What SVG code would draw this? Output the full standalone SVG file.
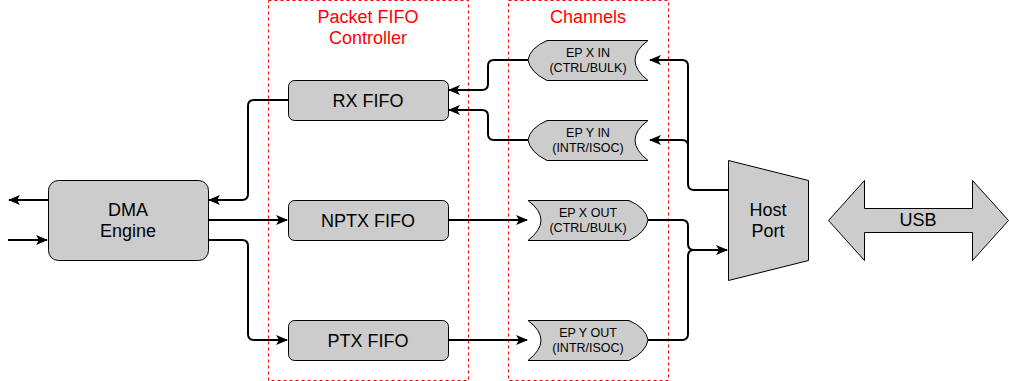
<svg xmlns="http://www.w3.org/2000/svg" width="1009" height="381" viewBox="0 0 1009 381">
<style>
.n{fill:#cccccc;stroke:#000;stroke-width:1}
.g{fill:none;stroke:#ff0000;stroke-width:1;stroke-dasharray:3 3}
.c{fill:none;stroke:#000;stroke-width:2;stroke-linejoin:round}
.t{font-family:"Liberation Sans",Arial,sans-serif;font-size:18px;fill:#000;text-anchor:middle}
.s{font-family:"Liberation Sans",Arial,sans-serif;font-size:12.5px;fill:#000;text-anchor:middle}
.r{font-family:"Liberation Sans",Arial,sans-serif;font-size:18px;fill:#ff0000;text-anchor:middle}
</style>
<defs>
<marker id="a" markerUnits="userSpaceOnUse" markerWidth="12" markerHeight="10" viewBox="0 0 12 10" refX="11" refY="5" orient="auto">
<path d="M0,0 L12,5 L0,10 L3,5 Z" fill="#000"/>
</marker>
</defs>
<rect width="1009" height="381" fill="#fff"/>
<g id="groups">
<rect class="g" x="268.5" y="0.5" width="200" height="380"/>
<text class="r" x="368" y="23">Packet FIFO</text>
<text class="r" x="368" y="44">Controller</text>
<rect class="g" x="508.5" y="0.5" width="160" height="380"/>
<text class="r" x="588" y="23">Channels</text>
</g>
<g id="connectors">
<path class="c" d="M528,60 H494 Q488,60 488,66 V84 Q488,90 482,90 H449" marker-end="url(#a)"/>
<path class="c" d="M528,140 H494 Q488,140 488,134 V116 Q488,110 482,110 H449" marker-end="url(#a)"/>
<path class="c" d="M728,190 H694 Q688,190 688,184 V66 Q688,60 682,60 H650" marker-end="url(#a)"/>
<path class="c" d="M688,146 Q688,140 682,140 H650" marker-end="url(#a)"/>
<path class="c" d="M288,100 H254 Q248,100 248,106 V194 Q248,200 242,200 H209" marker-end="url(#a)"/>
<path class="c" d="M208,220 H287" marker-end="url(#a)"/>
<path class="c" d="M208,240 H242 Q248,240 248,246 V334 Q248,340 254,340 H287" marker-end="url(#a)"/>
<path class="c" d="M448,220 H527" marker-end="url(#a)"/>
<path class="c" d="M448,340 H527" marker-end="url(#a)"/>
<path class="c" d="M648,220 H682 Q688,220 688,226 V244 Q688,250 694,250 H727" marker-end="url(#a)"/>
<path class="c" d="M648,340 H682 Q688,340 688,334 V256 Q688,250 694,250"/>
<path class="c" d="M48,200 H9" marker-end="url(#a)"/>
<path class="c" d="M8,240 H47" marker-end="url(#a)"/>
</g>
<g id="dma">
<rect class="n" x="48.5" y="180.5" width="160" height="80" rx="10"/>
<text class="t" x="128" y="216">DMA</text>
<text class="t" x="128" y="237">Engine</text>
</g>
<g id="rxfifo">
<rect class="n" x="288.5" y="80.5" width="160" height="40" rx="6"/>
<text class="t" x="368" y="106.5">RX FIFO</text>
</g>
<g id="nptxfifo">
<rect class="n" x="288.5" y="200.5" width="160" height="40" rx="6"/>
<text class="t" x="368" y="226.5">NPTX FIFO</text>
</g>
<g id="ptxfifo">
<rect class="n" x="288.5" y="320.5" width="160" height="40" rx="6"/>
<text class="t" x="368" y="346.5">PTX FIFO</text>
</g>
<g id="epxin">
<path class="n" d="M547,40.5 H648 Q622,60 648,80.5 H547 Q530,72 528,60 Q530,48 547,40.5 Z"/>
<text class="s" x="588" y="57">EP X IN</text>
<text class="s" x="588" y="72">(CTRL/BULK)</text>
</g>
<g id="epyin">
<path class="n" d="M547,120.5 H648 Q622,140 648,160.5 H547 Q530,152 528,140 Q530,128 547,120.5 Z"/>
<text class="s" x="588" y="137">EP Y IN</text>
<text class="s" x="588" y="152">(INTR/ISOC)</text>
</g>
<g id="epxout">
<path class="n" d="M528,200.5 H629 Q646,208 648,220 Q646,232 629,240.5 H528 Q554,220 528,200.5 Z"/>
<text class="s" x="588" y="217">EP X OUT</text>
<text class="s" x="588" y="232">(CTRL/BULK)</text>
</g>
<g id="epyout">
<path class="n" d="M528,320.5 H629 Q646,328 648,340 Q646,352 629,360.5 H528 Q554,340 528,320.5 Z"/>
<text class="s" x="588" y="337">EP Y OUT</text>
<text class="s" x="588" y="352">(INTR/ISOC)</text>
</g>
<g id="hostport">
<path class="n" d="M728.5,160.5 L808.5,180.5 V260.5 L728.5,280.5 Z"/>
<text class="t" x="768" y="216">Host</text>
<text class="t" x="768" y="237">Port</text>
</g>
<g id="usb">
<path class="n" d="M828.5,220.5 L864.5,180.5 V208.5 H972.5 V180.5 L1008.5,220.5 L972.5,260.5 V232.5 H864.5 V260.5 Z"/>
<text class="t" x="918" y="226">USB</text>
</g>
</svg>
